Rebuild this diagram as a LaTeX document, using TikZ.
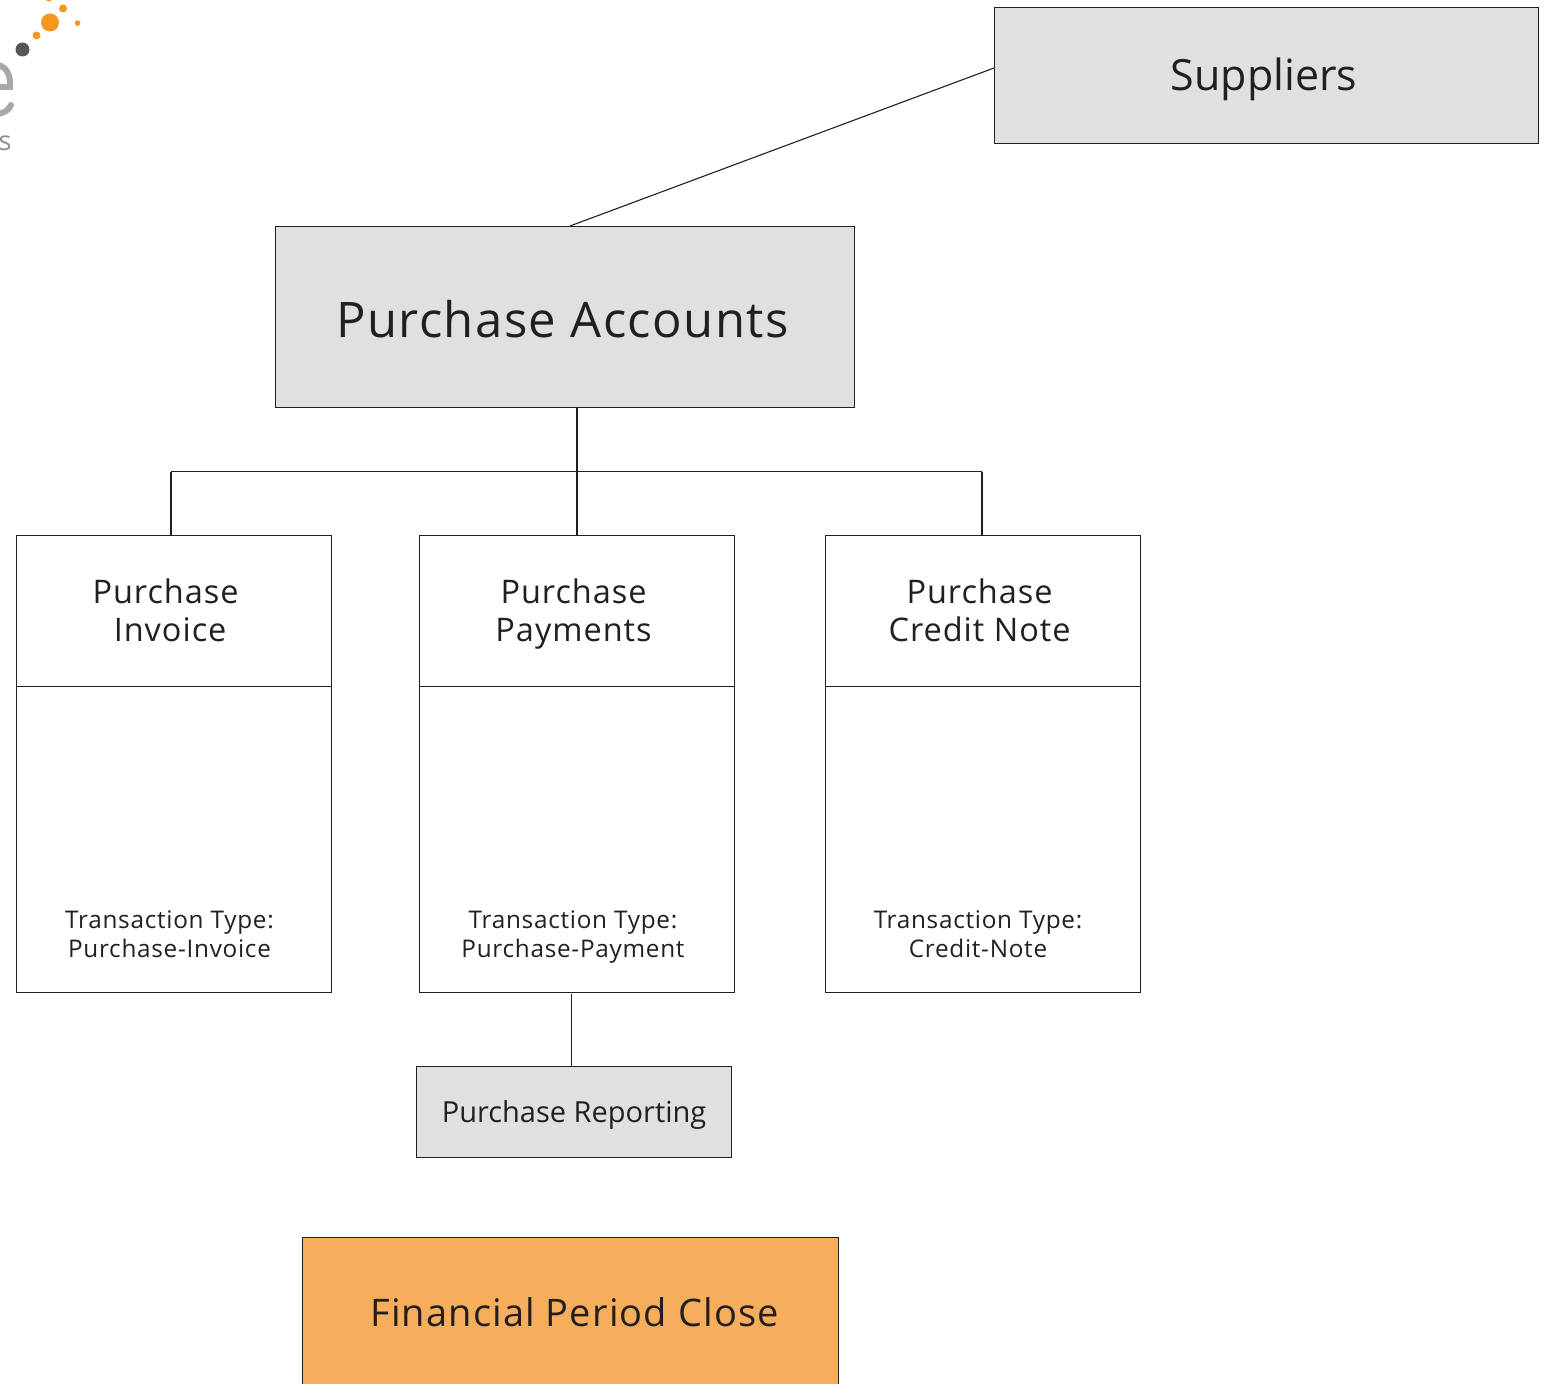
\documentclass[tikz,border=0pt]{standalone}
\usepackage{fontspec}
\setmainfont{Open Sans}
\newfontfamily\wide[LetterSpace=3]{Open Sans}
\usetikzlibrary{calc}
\definecolor{boxgrey}{HTML}{E0E0E0}
\definecolor{boxorange}{HTML}{F6AE5C}
\definecolor{ink}{HTML}{231F20}
\definecolor{logoorange}{HTML}{F5961E}
\definecolor{logodark}{HTML}{55565A}
\definecolor{logogrey}{HTML}{A8A8AA}
\newcommand{\lift}[2]{\raisebox{#1}[\height][\depth]{#2}}
\tikzset{
  x=1pt,y=-1pt,
  boxbase/.style={draw=ink,line width=1.2pt,inner sep=0pt,text=ink,align=center,anchor=north west},
  greybox/.style={boxbase,fill=boxgrey},
  whitebox/.style={boxbase,fill=white},
  orangebox/.style={boxbase,fill=boxorange},
  link/.style={draw=ink,line width=1.1pt},
  head/.style={text=ink,align=center,font=\wide\fontsize{32.5}{38.5}\selectfont,inner sep=0pt},
  small/.style={text=ink,align=center,font=\wide\fontsize{24.3}{29}\selectfont,inner sep=0pt},
}
\begin{document}
\begin{tikzpicture}
\useasboundingbox (0,0) rectangle (1546,1383);
\clip (0,0) rectangle (1546,1383);
% logo fragment
\fill[logoorange] (50,22.5) circle (9);
\fill[logoorange] (63,8.5) circle (4);
\fill[logoorange] (36.5,35.5) circle (4);
\fill[logoorange] (77.5,23) circle (2.8);
\fill[logoorange] (49,-2) circle (3.5);
\fill[logodark] (22.5,49.5) circle (7);
\draw[logogrey,line width=6pt,line cap=round] (-2,65) .. controls (7,67) and (11,76) .. (10,87) -- (-2,87);
\draw[logogrey,line width=6pt,line cap=round] (-2,114) .. controls (4,113) and (9,110) .. (11,105);
\node[text=logogrey!85!black,font=\fontsize{27}{32}\selectfont,inner sep=0pt] (logos) at (5,143) {s};
% boxes
\node[greybox,minimum width=544pt,minimum height=136pt,font=\fontsize{43}{51}\selectfont] (sup) at (994,7) {\lift{-3.5pt}{Suppliers\kern5pt}};
\node[greybox,minimum width=579pt,minimum height=181pt,font=\wide\fontsize{49}{58}\selectfont] (acc) at (275,226) {\lift{-2pt}{Purchase Accounts\kern5pt}};
\node[whitebox,minimum width=315pt,minimum height=151pt,head] (invh) at (16,535) {\lift{1pt}{Purchase}\kern17pt\\\lift{1pt}{Invoice}\kern8pt};
\node[whitebox,minimum width=315pt,minimum height=151pt,head] (payh) at (419,535) {\lift{1pt}{Purchase}\kern7pt\\\smash{\lift{1pt}{Payments}}\kern7pt};
\node[whitebox,minimum width=315pt,minimum height=151pt,head] (crnh) at (824.5,535) {\lift{1pt}{Purchase}\kern6pt\\\lift{1pt}{Credit Note}\kern6pt};
\node[whitebox,minimum width=315pt,minimum height=306pt] (invb) at (16,685.5) {};
\node[whitebox,minimum width=315pt,minimum height=306pt] (payb) at (419,685.5) {};
\node[whitebox,minimum width=315pt,minimum height=306pt] (crnb) at (824.5,685.5) {};
\node[small] (invt) at (169.5,934) {Transaction Type:\\Purchase-Invoice};
\node[small] (payt) at (573,934) {Transaction Type:\\\smash{Purchase-Payment}};
\node[small] (crnt) at (978,934) {Transaction Type:\\Credit-Note};
\node[greybox,minimum width=315pt,minimum height=91pt,font=\fontsize{29}{35}\selectfont] (rep) at (416,1066) {\lift{-3pt}{Purchase Reporting}};
\node[orangebox,minimum width=536pt,minimum height=150pt,font=\wide\fontsize{38}{45}\selectfont] (fin) at (302,1237) {\kern8pt Financial Period Close};
% connectors
\coordinate (supend) at (994,68);
\coordinate (accend) at (570,226);
\draw[link] (supend) -- (accend);
\coordinate (busl) at (171,471.5);
\coordinate (busr) at (982,471.5);
\coordinate (busm) at (577,471.5);
\draw[link] (busl) -- (busr);
\draw[link] (busm |- acc.south) -- (busm |- payh.north);
\draw[link] (busl) -- (busl |- invh.north);
\draw[link] (busr) -- (busr |- crnh.north);
\coordinate (replink) at (571.5,994);
\draw[link] (replink) -- (replink |- rep.north);
\end{tikzpicture}
\end{document}
